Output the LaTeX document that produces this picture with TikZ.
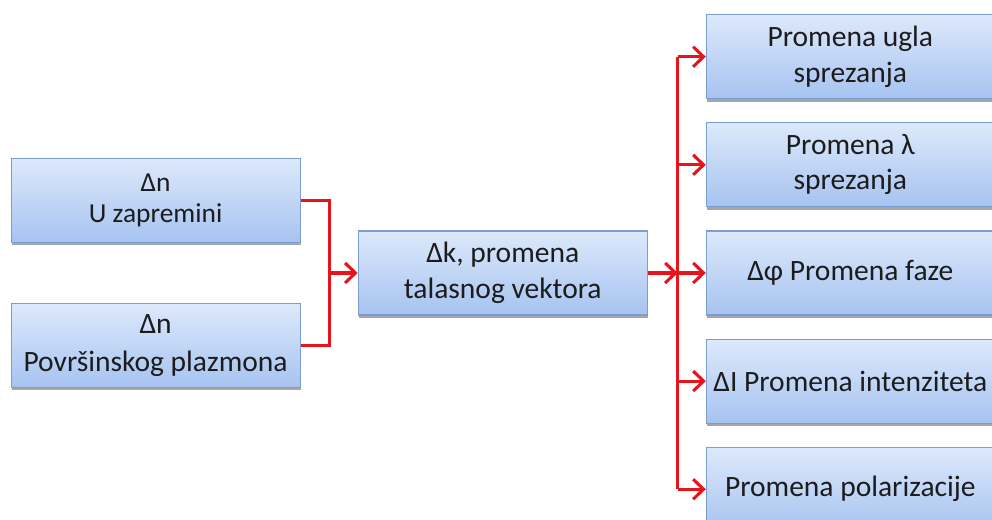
\documentclass[tikz,border=0pt]{standalone}
\usepackage{fontspec}
\setmainfont{Carlito}
\usepackage{tikz}
\usetikzlibrary{arrows.meta,positioning,calc,shadows}
\usepackage{xcolor}
\definecolor{boxtop}{HTML}{DDE9FB}
\definecolor{boxbot}{HTML}{A6C3F0}
\definecolor{boxline}{HTML}{7C9DD2}
\definecolor{linkred}{HTML}{E8141B}
\definecolor{ink}{HTML}{1C1C1C}
\tikzset{
  every node/.style={text=ink},
  box/.style={draw=boxline,line width=0.8pt,top color=boxtop,bottom color=boxbot,
    minimum width=72.25mm,minimum height=21mm,align=center,inner sep=1pt,
    font=\fontsize{21}{26}\selectfont,
    drop shadow={shadow xshift=0.6pt,shadow yshift=-2pt,fill=black,opacity=0.35}},
  smallbox/.style={box,font=\fontsize{19.5}{22}\selectfont},
  outbox/.style={box,minimum width=72mm,font=\fontsize{21}{25}\selectfont},
  link/.style={draw=linkred,line width=2.2pt},
  flow/.style={link,-{Straight Barb[length=2.6mm,width=5mm]}},
}
\begin{document}
\begin{tikzpicture}[node distance=5.75mm]
\useasboundingbox (0,0) rectangle (24.8,-12.975);

% inputs
\node[smallbox] (vol) at (3.89,-5.01) {Δn\\U zapremini};
\node[box,font=\fontsize{21}{27}\selectfont,below=15mm of vol] (spp) {Δn\\Površinskog plazmona};

% wave vector
\node[box,right=14.25mm of $(vol.east)!0.5!(spp.east)$] (dk) {Δk, promena\\talasnog vektora};
\coordinate[left=7mm of dk.west] (jl);
\coordinate[right=7.5mm of dk.east] (jr);

% outputs
\node[outbox,right=14.5mm of dk] (phase) {Δφ Promena faze};
\node[outbox,above=of phase] (lambda) {Promena λ\\sprezanja};
\node[outbox,above=of lambda] (angle) {Promena ugla\\sprezanja};
\node[outbox,below=of phase] (inten) {ΔI Promena intenziteta};
\node[outbox,below=of inten] (polar) {Promena polarizacije};

% arrows
\draw[link] (vol.east) -| (jl);
\draw[link] (spp.east) -| (jl);
\draw[flow] (jl) -- (dk.west);
\draw[flow] (dk.east) -- (jr);
\draw[link] (jr |- angle.west) -- (jr |- polar.west);
\foreach \n in {angle,lambda,phase,inten,polar}
  \draw[flow] (jr |- \n.west) -- (\n.west);

\end{tikzpicture}
\end{document}
